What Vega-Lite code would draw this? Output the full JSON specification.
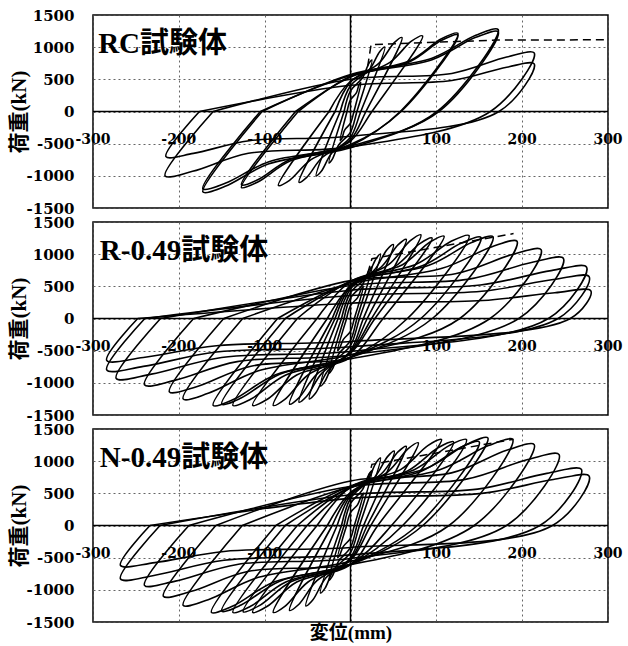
{
"$schema": "https://vega.github.io/schema/vega-lite/v6.json",
"background": "white",
"padding": {"left": 7, "top": 7, "right": 5, "bottom": 5},
"spacing": 14,
"bounds": "flush",
"config": {
 "view": {"stroke": "black", "strokeWidth": 1.5},
 "axis": {"domain": false, "ticks": false, "grid": true, "gridColor": "#555", "gridDash": [2, 3], "gridWidth": 0.9, "labelColor": "black", "titleColor": "black"},
 "axisX": {"labels": false, "titleFont": "Liberation Serif, Noto Sans CJK JP", "titleFontWeight": "bold", "titleFontSize": 19, "titlePadding": 1},
 "axisY": {"labelFont": "DejaVu Serif", "labelFontWeight": "bold", "labelFontSize": 15, "labelPadding": 19, "labelFlush": false, "labelExpr": "datum.value + ''", "titleFont": "Liberation Serif, Noto Sans CJK JP", "titleFontWeight": "bold", "titleFontSize": 21, "titlePadding": -3}
},
"datasets": {
 "xl": [{"v": -300}, {"v": -200}, {"v": -100}, {"v": 100}, {"v": 200}, {"v": 300}],
 "drc": [{"o": 1, "x": 20, "y": 700}, {"o": 2, "x": 24, "y": 1040}, {"o": 3, "x": 170, "y": 1110}, {"o": 4, "x": 300, "y": 1115}],
 "dr": [{"o": 1, "x": 20, "y": 700}, {"o": 2, "x": 25, "y": 930}, {"o": 3, "x": 190, "y": 1320}],
 "dn": [{"o": 1, "x": 20, "y": 700}, {"o": 2, "x": 25, "y": 950}, {"o": 3, "x": 190, "y": 1340}],
 "rc": [
{"c":1,"o":1,"x":-4,"y":0},{"c":1,"o":2,"x":0,"y":180},{"c":1,"o":3,"x":7,"y":293},{"c":1,"o":4,"x":10,"y":419},{"c":1,"o":5,"x":12,"y":450},{"c":1,"o":6,"x":4,"y":0},{"c":1,"o":7,"x":0,"y":-180},{"c":1,"o":8,"x":-7,"y":-293},{"c":1,"o":9,"x":-10,"y":-419},{"c":1,"o":10,"x":-12,"y":-450},{"c":1,"o":11,"x":-4,"y":0},
{"c":2,"o":1,"x":-7.5,"y":0},{"c":2,"o":2,"x":0,"y":320},{"c":2,"o":3,"x":13.8,"y":520},{"c":2,"o":4,"x":21.3,"y":744},{"c":2,"o":5,"x":25,"y":800},{"c":2,"o":6,"x":7.5,"y":0},{"c":2,"o":7,"x":0,"y":-320},{"c":2,"o":8,"x":-13.8,"y":-520},{"c":2,"o":9,"x":-21.3,"y":-744},{"c":2,"o":10,"x":-25,"y":-800},{"c":2,"o":11,"x":-7.5,"y":0},
{"c":3,"o":1,"x":-12,"y":0},{"c":3,"o":2,"x":0,"y":400},{"c":3,"o":3,"x":22,"y":650},{"c":3,"o":4,"x":34,"y":930},{"c":3,"o":5,"x":40,"y":1000},{"c":3,"o":6,"x":12,"y":0},{"c":3,"o":7,"x":0,"y":-400},{"c":3,"o":8,"x":-22,"y":-650},{"c":3,"o":9,"x":-34,"y":-930},{"c":3,"o":10,"x":-40,"y":-1000},{"c":3,"o":11,"x":-12,"y":0},
{"c":4,"o":1,"x":-18,"y":0},{"c":4,"o":2,"x":0,"y":460},{"c":4,"o":3,"x":33,"y":748},{"c":4,"o":4,"x":51,"y":1070},{"c":4,"o":5,"x":60,"y":1150},{"c":4,"o":6,"x":18,"y":0},{"c":4,"o":7,"x":0,"y":-440},{"c":4,"o":8,"x":-33,"y":-715},{"c":4,"o":9,"x":-51,"y":-1023},{"c":4,"o":10,"x":-60,"y":-1100},{"c":4,"o":11,"x":-18,"y":0},
{"c":5,"o":1,"x":-25,"y":0},{"c":5,"o":2,"x":0,"y":470},{"c":5,"o":3,"x":46,"y":764},{"c":5,"o":4,"x":71,"y":1093},{"c":5,"o":5,"x":84,"y":1175},{"c":5,"o":6,"x":25,"y":0},{"c":5,"o":7,"x":0,"y":-460},{"c":5,"o":8,"x":-46,"y":-748},{"c":5,"o":9,"x":-71,"y":-1070},{"c":5,"o":10,"x":-84,"y":-1150},{"c":5,"o":11,"x":-25,"y":0},
{"c":6,"o":1,"x":-61,"y":0},{"c":6,"o":2,"x":0,"y":547},{"c":6,"o":3,"x":69,"y":790},{"c":6,"o":4,"x":106,"y":1130},{"c":6,"o":5,"x":125,"y":1215},{"c":6,"o":6,"x":58,"y":0},{"c":6,"o":7,"x":0,"y":-531},{"c":6,"o":8,"x":-70,"y":-767},{"c":6,"o":9,"x":-108,"y":-1097},{"c":6,"o":10,"x":-127,"y":-1180},{"c":6,"o":11,"x":-61,"y":0},
{"c":7,"o":1,"x":-64,"y":0},{"c":7,"o":2,"x":0,"y":536},{"c":7,"o":3,"x":69,"y":774},{"c":7,"o":4,"x":106,"y":1107},{"c":7,"o":5,"x":125,"y":1190},{"c":7,"o":6,"x":59,"y":0},{"c":7,"o":7,"x":0,"y":-513},{"c":7,"o":8,"x":-70,"y":-741},{"c":7,"o":9,"x":-108,"y":-1060},{"c":7,"o":10,"x":-127,"y":-1140},{"c":7,"o":11,"x":-64,"y":0},
{"c":8,"o":1,"x":-103,"y":0},{"c":8,"o":2,"x":0,"y":574},{"c":8,"o":3,"x":95,"y":829},{"c":8,"o":4,"x":146,"y":1186},{"c":8,"o":5,"x":172,"y":1275},{"c":8,"o":6,"x":101,"y":0},{"c":8,"o":7,"x":0,"y":-563},{"c":8,"o":8,"x":-95,"y":-813},{"c":8,"o":9,"x":-146,"y":-1163},{"c":8,"o":10,"x":-172,"y":-1250},{"c":8,"o":11,"x":-103,"y":0},
{"c":9,"o":1,"x":-105,"y":0},{"c":9,"o":2,"x":0,"y":558},{"c":9,"o":3,"x":95,"y":806},{"c":9,"o":4,"x":146,"y":1153},{"c":9,"o":5,"x":172,"y":1240},{"c":9,"o":6,"x":103,"y":0},{"c":9,"o":7,"x":0,"y":-540},{"c":9,"o":8,"x":-95,"y":-780},{"c":9,"o":9,"x":-146,"y":-1116},{"c":9,"o":10,"x":-172,"y":-1200},{"c":9,"o":11,"x":-105,"y":0},
{"c":10,"o":1,"x":-160,"y":0},{"c":10,"o":2,"x":0,"y":501},{"c":10,"o":3,"x":118,"y":592},{"c":10,"o":4,"x":182,"y":846},{"c":10,"o":5,"x":214,"y":910},{"c":10,"o":6,"x":163,"y":0},{"c":10,"o":7,"x":0,"y":-550},{"c":10,"o":8,"x":-119,"y":-650},{"c":10,"o":9,"x":-184,"y":-930},{"c":10,"o":10,"x":-216,"y":-1000},{"c":10,"o":11,"x":-160,"y":0},
{"c":11,"o":1,"x":-176,"y":0},{"c":11,"o":2,"x":0,"y":407},{"c":11,"o":3,"x":118,"y":481},{"c":11,"o":4,"x":182,"y":688},{"c":11,"o":5,"x":214,"y":740},{"c":11,"o":6,"x":173,"y":0},{"c":11,"o":7,"x":0,"y":-385},{"c":11,"o":8,"x":-118,"y":-455},{"c":11,"o":9,"x":-183,"y":-651},{"c":11,"o":10,"x":-215,"y":-700},{"c":11,"o":11,"x":-176,"y":0}
 ],
 "r": [
{"c":1,"o":1,"x":-4.5,"y":0},{"c":1,"o":2,"x":0,"y":200},{"c":1,"o":3,"x":8.3,"y":325},{"c":1,"o":4,"x":12.8,"y":465},{"c":1,"o":5,"x":15,"y":500},{"c":1,"o":6,"x":4.5,"y":0},{"c":1,"o":7,"x":0,"y":-200},{"c":1,"o":8,"x":-8.3,"y":-325},{"c":1,"o":9,"x":-12.8,"y":-465},{"c":1,"o":10,"x":-15,"y":-500},{"c":1,"o":11,"x":-4.5,"y":0},
{"c":2,"o":1,"x":-7.5,"y":0},{"c":2,"o":2,"x":0,"y":320},{"c":2,"o":3,"x":13.8,"y":520},{"c":2,"o":4,"x":21.3,"y":744},{"c":2,"o":5,"x":25,"y":800},{"c":2,"o":6,"x":7.5,"y":0},{"c":2,"o":7,"x":0,"y":-340},{"c":2,"o":8,"x":-13.8,"y":-553},{"c":2,"o":9,"x":-21.3,"y":-791},{"c":2,"o":10,"x":-25,"y":-850},{"c":2,"o":11,"x":-7.5,"y":0},
{"c":3,"o":1,"x":-10.5,"y":0},{"c":3,"o":2,"x":0,"y":400},{"c":3,"o":3,"x":19.3,"y":650},{"c":3,"o":4,"x":29.8,"y":930},{"c":3,"o":5,"x":35,"y":1000},{"c":3,"o":6,"x":10.5,"y":0},{"c":3,"o":7,"x":0,"y":-420},{"c":3,"o":8,"x":-19.3,"y":-683},{"c":3,"o":9,"x":-29.8,"y":-977},{"c":3,"o":10,"x":-35,"y":-1050},{"c":3,"o":11,"x":-10.5,"y":0},
{"c":4,"o":1,"x":-14.4,"y":0},{"c":4,"o":2,"x":0,"y":460},{"c":4,"o":3,"x":27.5,"y":748},{"c":4,"o":4,"x":42.5,"y":1070},{"c":4,"o":5,"x":50,"y":1150},{"c":4,"o":6,"x":15,"y":0},{"c":4,"o":7,"x":0,"y":-500},{"c":4,"o":8,"x":-26.4,"y":-813},{"c":4,"o":9,"x":-40.8,"y":-1163},{"c":4,"o":10,"x":-48,"y":-1250},{"c":4,"o":11,"x":-14.4,"y":0},
{"c":5,"o":1,"x":-18,"y":0},{"c":5,"o":2,"x":0,"y":492},{"c":5,"o":3,"x":35.8,"y":800},{"c":5,"o":4,"x":55.3,"y":1144},{"c":5,"o":5,"x":65,"y":1230},{"c":5,"o":6,"x":19.5,"y":0},{"c":5,"o":7,"x":0,"y":-520},{"c":5,"o":8,"x":-33,"y":-845},{"c":5,"o":9,"x":-51,"y":-1209},{"c":5,"o":10,"x":-60,"y":-1300},{"c":5,"o":11,"x":-18,"y":0},
{"c":6,"o":1,"x":-21.3,"y":0},{"c":6,"o":2,"x":0,"y":520},{"c":6,"o":3,"x":45.1,"y":845},{"c":6,"o":4,"x":69.7,"y":1209},{"c":6,"o":5,"x":82,"y":1300},{"c":6,"o":6,"x":24.6,"y":0},{"c":6,"o":7,"x":0,"y":-532},{"c":6,"o":8,"x":-39.1,"y":-865},{"c":6,"o":9,"x":-60.4,"y":-1237},{"c":6,"o":10,"x":-71,"y":-1330},{"c":6,"o":11,"x":-21.3,"y":0},
{"c":7,"o":1,"x":-27,"y":0},{"c":7,"o":2,"x":0,"y":500},{"c":7,"o":3,"x":52.3,"y":813},{"c":7,"o":4,"x":80.8,"y":1163},{"c":7,"o":5,"x":95,"y":1250},{"c":7,"o":6,"x":28.5,"y":0},{"c":7,"o":7,"x":0,"y":-540},{"c":7,"o":8,"x":-49.5,"y":-878},{"c":7,"o":9,"x":-76.5,"y":-1256},{"c":7,"o":10,"x":-90,"y":-1350},{"c":7,"o":11,"x":-27,"y":0},
{"c":8,"o":1,"x":-39,"y":0},{"c":8,"o":2,"x":0,"y":576},{"c":8,"o":3,"x":60,"y":832},{"c":8,"o":4,"x":92.7,"y":1190},{"c":8,"o":5,"x":109,"y":1280},{"c":8,"o":6,"x":37.9,"y":0},{"c":8,"o":7,"x":0,"y":-608},{"c":8,"o":8,"x":-62.7,"y":-878},{"c":8,"o":9,"x":-96.9,"y":-1256},{"c":8,"o":10,"x":-114,"y":-1350},{"c":8,"o":11,"x":-39,"y":0},
{"c":9,"o":1,"x":-62,"y":0},{"c":9,"o":2,"x":0,"y":581},{"c":9,"o":3,"x":75.9,"y":839},{"c":9,"o":4,"x":117.3,"y":1200},{"c":9,"o":5,"x":138,"y":1290},{"c":9,"o":6,"x":66.3,"y":0},{"c":9,"o":7,"x":0,"y":-608},{"c":9,"o":8,"x":-75.4,"y":-878},{"c":9,"o":9,"x":-116.5,"y":-1256},{"c":9,"o":10,"x":-137,"y":-1350},{"c":9,"o":11,"x":-62,"y":0},
{"c":10,"o":1,"x":-76,"y":0},{"c":10,"o":2,"x":0,"y":567},{"c":10,"o":3,"x":83.6,"y":819},{"c":10,"o":4,"x":129.2,"y":1172},{"c":10,"o":5,"x":152,"y":1260},{"c":10,"o":6,"x":82,"y":0},{"c":10,"o":7,"x":0,"y":-599},{"c":10,"o":8,"x":-82.5,"y":-865},{"c":10,"o":9,"x":-127.5,"y":-1237},{"c":10,"o":10,"x":-150,"y":-1330},{"c":10,"o":11,"x":-76,"y":0},
{"c":11,"o":1,"x":-85,"y":0},{"c":11,"o":2,"x":0,"y":572},{"c":11,"o":3,"x":91.3,"y":826},{"c":11,"o":4,"x":141.1,"y":1181},{"c":11,"o":5,"x":166,"y":1270},{"c":11,"o":6,"x":95.4,"y":0},{"c":11,"o":7,"x":0,"y":-608},{"c":11,"o":8,"x":-88,"y":-878},{"c":11,"o":9,"x":-136,"y":-1256},{"c":11,"o":10,"x":-160,"y":-1350},{"c":11,"o":11,"x":-85,"y":0},
{"c":12,"o":1,"x":-125.6,"y":0},{"c":12,"o":2,"x":0,"y":540},{"c":12,"o":3,"x":106.7,"y":780},{"c":12,"o":4,"x":164.9,"y":1116},{"c":12,"o":5,"x":194,"y":1200},{"c":12,"o":6,"x":127.3,"y":0},{"c":12,"o":7,"x":0,"y":-563},{"c":12,"o":8,"x":-107.3,"y":-813},{"c":12,"o":9,"x":-165.8,"y":-1163},{"c":12,"o":10,"x":-195,"y":-1250},{"c":12,"o":11,"x":-125.6,"y":0},
{"c":13,"o":1,"x":-147.7,"y":0},{"c":13,"o":2,"x":0,"y":589},{"c":13,"o":3,"x":122.1,"y":696},{"c":13,"o":4,"x":188.7,"y":995},{"c":13,"o":5,"x":222,"y":1070},{"c":13,"o":6,"x":162.6,"y":0},{"c":13,"o":7,"x":0,"y":-627},{"c":13,"o":8,"x":-116,"y":-741},{"c":13,"o":9,"x":-179.4,"y":-1060},{"c":13,"o":10,"x":-211,"y":-1140},{"c":13,"o":11,"x":-147.7,"y":0},
{"c":14,"o":1,"x":-182.8,"y":0},{"c":14,"o":2,"x":0,"y":514},{"c":14,"o":3,"x":136.4,"y":608},{"c":14,"o":4,"x":210.8,"y":870},{"c":14,"o":5,"x":248,"y":935},{"c":14,"o":6,"x":196.1,"y":0},{"c":14,"o":7,"x":0,"y":-567},{"c":14,"o":8,"x":-132,"y":-670},{"c":14,"o":9,"x":-204,"y":-958},{"c":14,"o":10,"x":-240,"y":-1030},{"c":14,"o":11,"x":-182.8,"y":0},
{"c":15,"o":1,"x":-221.3,"y":0},{"c":15,"o":2,"x":0,"y":440},{"c":15,"o":3,"x":151.3,"y":520},{"c":15,"o":4,"x":233.8,"y":744},{"c":15,"o":5,"x":275,"y":800},{"c":15,"o":6,"x":230.6,"y":0},{"c":15,"o":7,"x":0,"y":-512},{"c":15,"o":8,"x":-150.2,"y":-605},{"c":15,"o":9,"x":-232,"y":-865},{"c":15,"o":10,"x":-273,"y":-930},{"c":15,"o":11,"x":-221.3,"y":0},
{"c":16,"o":1,"x":-239.6,"y":0},{"c":16,"o":2,"x":0,"y":358},{"c":16,"o":3,"x":152.9,"y":423},{"c":16,"o":4,"x":236.3,"y":605},{"c":16,"o":5,"x":278,"y":650},{"c":16,"o":6,"x":241.9,"y":0},{"c":16,"o":7,"x":0,"y":-440},{"c":16,"o":8,"x":-156.2,"y":-520},{"c":16,"o":9,"x":-241.4,"y":-744},{"c":16,"o":10,"x":-284,"y":-800},{"c":16,"o":11,"x":-239.6,"y":0},
{"c":17,"o":1,"x":-247.9,"y":0},{"c":17,"o":2,"x":0,"y":237},{"c":17,"o":3,"x":154,"y":280},{"c":17,"o":4,"x":238,"y":400},{"c":17,"o":5,"x":280,"y":430},{"c":17,"o":6,"x":256.1,"y":0},{"c":17,"o":7,"x":0,"y":-358},{"c":17,"o":8,"x":-156.2,"y":-423},{"c":17,"o":9,"x":-241.4,"y":-605},{"c":17,"o":10,"x":-284,"y":-650},{"c":17,"o":11,"x":-247.9,"y":0}
 ],
 "n": [
{"c":1,"o":1,"x":-4.5,"y":0},{"c":1,"o":2,"x":0,"y":200},{"c":1,"o":3,"x":8.3,"y":325},{"c":1,"o":4,"x":12.8,"y":465},{"c":1,"o":5,"x":15,"y":500},{"c":1,"o":6,"x":4.5,"y":0},{"c":1,"o":7,"x":0,"y":-200},{"c":1,"o":8,"x":-8.3,"y":-325},{"c":1,"o":9,"x":-12.8,"y":-465},{"c":1,"o":10,"x":-15,"y":-500},{"c":1,"o":11,"x":-4.5,"y":0},
{"c":2,"o":1,"x":-7.5,"y":0},{"c":2,"o":2,"x":0,"y":340},{"c":2,"o":3,"x":13.8,"y":553},{"c":2,"o":4,"x":21.3,"y":791},{"c":2,"o":5,"x":25,"y":850},{"c":2,"o":6,"x":7.5,"y":0},{"c":2,"o":7,"x":0,"y":-340},{"c":2,"o":8,"x":-13.8,"y":-553},{"c":2,"o":9,"x":-21.3,"y":-791},{"c":2,"o":10,"x":-25,"y":-850},{"c":2,"o":11,"x":-7.5,"y":0},
{"c":3,"o":1,"x":-10.5,"y":0},{"c":3,"o":2,"x":0,"y":420},{"c":3,"o":3,"x":19.3,"y":683},{"c":3,"o":4,"x":29.8,"y":977},{"c":3,"o":5,"x":35,"y":1050},{"c":3,"o":6,"x":10.5,"y":0},{"c":3,"o":7,"x":0,"y":-420},{"c":3,"o":8,"x":-19.3,"y":-683},{"c":3,"o":9,"x":-29.8,"y":-977},{"c":3,"o":10,"x":-35,"y":-1050},{"c":3,"o":11,"x":-10.5,"y":0},
{"c":4,"o":1,"x":-15.6,"y":0},{"c":4,"o":2,"x":0,"y":462},{"c":4,"o":3,"x":28.1,"y":751},{"c":4,"o":4,"x":43.4,"y":1074},{"c":4,"o":5,"x":51,"y":1155},{"c":4,"o":6,"x":15.3,"y":0},{"c":4,"o":7,"x":0,"y":-500},{"c":4,"o":8,"x":-28.6,"y":-813},{"c":4,"o":9,"x":-44.2,"y":-1163},{"c":4,"o":10,"x":-52,"y":-1250},{"c":4,"o":11,"x":-15.6,"y":0},
{"c":5,"o":1,"x":-21.3,"y":0},{"c":5,"o":2,"x":0,"y":492},{"c":5,"o":3,"x":35.8,"y":800},{"c":5,"o":4,"x":55.3,"y":1144},{"c":5,"o":5,"x":65,"y":1230},{"c":5,"o":6,"x":19.5,"y":0},{"c":5,"o":7,"x":0,"y":-528},{"c":5,"o":8,"x":-39.1,"y":-858},{"c":5,"o":9,"x":-60.4,"y":-1228},{"c":5,"o":10,"x":-71,"y":-1320},{"c":5,"o":11,"x":-21.3,"y":0},
{"c":6,"o":1,"x":-27,"y":0},{"c":6,"o":2,"x":0,"y":514},{"c":6,"o":3,"x":43.5,"y":835},{"c":6,"o":4,"x":67.2,"y":1195},{"c":6,"o":5,"x":79,"y":1285},{"c":6,"o":6,"x":23.7,"y":0},{"c":6,"o":7,"x":0,"y":-540},{"c":6,"o":8,"x":-49.5,"y":-878},{"c":6,"o":9,"x":-76.5,"y":-1256},{"c":6,"o":10,"x":-90,"y":-1350},{"c":6,"o":11,"x":-27,"y":0},
{"c":7,"o":1,"x":-39,"y":0},{"c":7,"o":2,"x":0,"y":601},{"c":7,"o":3,"x":58.3,"y":868},{"c":7,"o":4,"x":90.1,"y":1242},{"c":7,"o":5,"x":106,"y":1336},{"c":7,"o":6,"x":31.8,"y":0},{"c":7,"o":7,"x":0,"y":-608},{"c":7,"o":8,"x":-62.7,"y":-878},{"c":7,"o":9,"x":-96.9,"y":-1256},{"c":7,"o":10,"x":-114,"y":-1350},{"c":7,"o":11,"x":-39,"y":0},
{"c":8,"o":1,"x":-50.6,"y":0},{"c":8,"o":2,"x":0,"y":585},{"c":8,"o":3,"x":66,"y":845},{"c":8,"o":4,"x":102,"y":1209},{"c":8,"o":5,"x":120,"y":1300},{"c":8,"o":6,"x":47.8,"y":0},{"c":8,"o":7,"x":0,"y":-603},{"c":8,"o":8,"x":-68.8,"y":-871},{"c":8,"o":9,"x":-106.3,"y":-1246},{"c":8,"o":10,"x":-125,"y":-1340},{"c":8,"o":11,"x":-50.6,"y":0},
{"c":9,"o":1,"x":-62,"y":0},{"c":9,"o":2,"x":0,"y":601},{"c":9,"o":3,"x":74.3,"y":868},{"c":9,"o":4,"x":114.8,"y":1242},{"c":9,"o":5,"x":135,"y":1336},{"c":9,"o":6,"x":60.8,"y":0},{"c":9,"o":7,"x":0,"y":-608},{"c":9,"o":8,"x":-75.4,"y":-878},{"c":9,"o":9,"x":-116.5,"y":-1256},{"c":9,"o":10,"x":-137,"y":-1350},{"c":9,"o":11,"x":-62,"y":0},
{"c":10,"o":1,"x":-76.1,"y":0},{"c":10,"o":2,"x":0,"y":585},{"c":10,"o":3,"x":82.5,"y":845},{"c":10,"o":4,"x":127.5,"y":1209},{"c":10,"o":5,"x":150,"y":1300},{"c":10,"o":6,"x":77.8,"y":0},{"c":10,"o":7,"x":0,"y":-599},{"c":10,"o":8,"x":-82.5,"y":-865},{"c":10,"o":9,"x":-127.5,"y":-1237},{"c":10,"o":10,"x":-150,"y":-1330},{"c":10,"o":11,"x":-76.1,"y":0},
{"c":11,"o":1,"x":-87,"y":0},{"c":11,"o":2,"x":0,"y":613},{"c":11,"o":3,"x":88,"y":885},{"c":11,"o":4,"x":136,"y":1267},{"c":11,"o":5,"x":160,"y":1362},{"c":11,"o":6,"x":84.3,"y":0},{"c":11,"o":7,"x":0,"y":-608},{"c":11,"o":8,"x":-89.1,"y":-878},{"c":11,"o":9,"x":-137.7,"y":-1256},{"c":11,"o":10,"x":-162,"y":-1350},{"c":11,"o":11,"x":-87,"y":0},
{"c":12,"o":1,"x":-126.1,"y":0},{"c":12,"o":2,"x":0,"y":601},{"c":12,"o":3,"x":104,"y":868},{"c":12,"o":4,"x":160.7,"y":1242},{"c":12,"o":5,"x":189,"y":1336},{"c":12,"o":6,"x":114.8,"y":0},{"c":12,"o":7,"x":0,"y":-558},{"c":12,"o":8,"x":-107.3,"y":-806},{"c":12,"o":9,"x":-165.8,"y":-1153},{"c":12,"o":10,"x":-195,"y":-1240},{"c":12,"o":11,"x":-126.1,"y":0},
{"c":13,"o":1,"x":-156.9,"y":0},{"c":13,"o":2,"x":0,"y":692},{"c":13,"o":3,"x":117.7,"y":818},{"c":13,"o":4,"x":181.9,"y":1170},{"c":13,"o":5,"x":214,"y":1258},{"c":13,"o":6,"x":144.1,"y":0},{"c":13,"o":7,"x":0,"y":-605},{"c":13,"o":8,"x":-119.9,"y":-715},{"c":13,"o":9,"x":-185.3,"y":-1023},{"c":13,"o":10,"x":-218,"y":-1100},{"c":13,"o":11,"x":-156.9,"y":0},
{"c":14,"o":1,"x":-188.3,"y":0},{"c":14,"o":2,"x":0,"y":607},{"c":14,"o":3,"x":133.7,"y":717},{"c":14,"o":4,"x":206.6,"y":1026},{"c":14,"o":5,"x":243,"y":1103},{"c":14,"o":6,"x":181.7,"y":0},{"c":14,"o":7,"x":0,"y":-512},{"c":14,"o":8,"x":-132,"y":-605},{"c":14,"o":9,"x":-204,"y":-865},{"c":14,"o":10,"x":-240,"y":-930},{"c":14,"o":11,"x":-188.3,"y":0},
{"c":15,"o":1,"x":-221.9,"y":0},{"c":15,"o":2,"x":0,"y":479},{"c":15,"o":3,"x":148,"y":566},{"c":15,"o":4,"x":228.7,"y":810},{"c":15,"o":5,"x":269,"y":871},{"c":15,"o":6,"x":220.6,"y":0},{"c":15,"o":7,"x":0,"y":-457},{"c":15,"o":8,"x":-147.4,"y":-540},{"c":15,"o":9,"x":-227.8,"y":-772},{"c":15,"o":10,"x":-268,"y":-830},{"c":15,"o":11,"x":-221.9,"y":0},
{"c":16,"o":1,"x":-233.6,"y":0},{"c":16,"o":2,"x":0,"y":422},{"c":16,"o":3,"x":152.9,"y":499},{"c":16,"o":4,"x":236.3,"y":714},{"c":16,"o":5,"x":278,"y":768},{"c":16,"o":6,"x":235.3,"y":0},{"c":16,"o":7,"x":0,"y":-341},{"c":16,"o":8,"x":-147.4,"y":-403},{"c":16,"o":9,"x":-227.8,"y":-577},{"c":16,"o":10,"x":-268,"y":-620},{"c":16,"o":11,"x":-233.6,"y":0}
 ]
},
"vconcat": [
 {"width": 515, "height": 193, "layer": [
  {"data": {"name": "rc"}, "mark": {"type": "line", "color": "black", "strokeWidth": 1.6, "interpolate": "catmull-rom", "clip": true},
   "encoding": {"x": {"field": "x", "type": "quantitative", "scale": {"domain": [-300, 300], "nice": false}, "axis": {"values": [-300, -200, -100, 0, 100, 200, 300], "title": null}},
    "y": {"field": "y", "type": "quantitative", "scale": {"domain": [-1500, 1500], "nice": false}, "axis": {"values": [-1500, -1000, -500, 0, 500, 1000, 1500], "title": "荷重(kN)"}},
    "detail": {"field": "c"}, "order": {"field": "o"}}},
  {"data": {"name": "drc"}, "mark": {"type": "line", "color": "black", "strokeWidth": 1.5, "strokeDash": [8, 5]},
   "encoding": {"x": {"field": "x", "type": "quantitative", "axis": {"values": [-300, -200, -100, 0, 100, 200, 300], "title": null}}, "y": {"field": "y", "type": "quantitative", "axis": {"values": [-1500, -1000, -500, 0, 500, 1000, 1500], "title": "荷重(kN)"}}, "order": {"field": "o"}}},
  {"data": {"values": [{}]}, "mark": {"type": "rule", "color": "black", "strokeWidth": 1.5}, "encoding": {"x": {"datum": 0, "axis": {"values": [-300, -200, -100, 0, 100, 200, 300], "title": null}}}},
  {"data": {"values": [{}]}, "mark": {"type": "rule", "color": "black", "strokeWidth": 1.5}, "encoding": {"y": {"datum": 0, "axis": {"values": [-1500, -1000, -500, 0, 500, 1000, 1500], "title": "荷重(kN)"}}}},
  {"data": {"name": "xl"}, "mark": {"type": "text", "font": "DejaVu Serif", "fontWeight": "bold", "fontSize": 14, "baseline": "middle", "align": "center", "color": "black"},
   "encoding": {"x": {"field": "v", "type": "quantitative", "axis": {"values": [-300, -200, -100, 0, 100, 200, 300], "title": null}}, "y": {"datum": -450, "axis": {"values": [-1500, -1000, -500, 0, 500, 1000, 1500], "title": "荷重(kN)"}}, "text": {"field": "v", "type": "nominal"}}},
  {"data": {"values": [{"t": "RC試験体"}]}, "mark": {"type": "text", "font": "Liberation Serif, Noto Sans CJK JP", "fontWeight": "bold", "fontSize": 29, "align": "left", "baseline": "alphabetic", "color": "black"},
   "encoding": {"x": {"datum": -294, "axis": {"values": [-300, -200, -100, 0, 100, 200, 300], "title": null}}, "y": {"datum": 905, "axis": {"values": [-1500, -1000, -500, 0, 500, 1000, 1500], "title": "荷重(kN)"}}, "text": {"field": "t"}}}
 ]},
 {"width": 515, "height": 193, "layer": [
  {"data": {"name": "r"}, "mark": {"type": "line", "color": "black", "strokeWidth": 1.6, "interpolate": "catmull-rom", "clip": true},
   "encoding": {"x": {"field": "x", "type": "quantitative", "scale": {"domain": [-300, 300], "nice": false}, "axis": {"values": [-300, -200, -100, 0, 100, 200, 300], "title": null}},
    "y": {"field": "y", "type": "quantitative", "scale": {"domain": [-1500, 1500], "nice": false}, "axis": {"values": [-1500, -1000, -500, 0, 500, 1000, 1500], "title": "荷重(kN)"}},
    "detail": {"field": "c"}, "order": {"field": "o"}}},
  {"data": {"name": "dr"}, "mark": {"type": "line", "color": "black", "strokeWidth": 1.5, "strokeDash": [8, 5]},
   "encoding": {"x": {"field": "x", "type": "quantitative", "axis": {"values": [-300, -200, -100, 0, 100, 200, 300], "title": null}}, "y": {"field": "y", "type": "quantitative", "axis": {"values": [-1500, -1000, -500, 0, 500, 1000, 1500], "title": "荷重(kN)"}}, "order": {"field": "o"}}},
  {"data": {"values": [{}]}, "mark": {"type": "rule", "color": "black", "strokeWidth": 1.5}, "encoding": {"x": {"datum": 0, "axis": {"values": [-300, -200, -100, 0, 100, 200, 300], "title": null}}}},
  {"data": {"values": [{}]}, "mark": {"type": "rule", "color": "black", "strokeWidth": 1.5}, "encoding": {"y": {"datum": 0, "axis": {"values": [-1500, -1000, -500, 0, 500, 1000, 1500], "title": "荷重(kN)"}}}},
  {"data": {"name": "xl"}, "mark": {"type": "text", "font": "DejaVu Serif", "fontWeight": "bold", "fontSize": 14, "baseline": "middle", "align": "center", "color": "black"},
   "encoding": {"x": {"field": "v", "type": "quantitative", "axis": {"values": [-300, -200, -100, 0, 100, 200, 300], "title": null}}, "y": {"datum": -450, "axis": {"values": [-1500, -1000, -500, 0, 500, 1000, 1500], "title": "荷重(kN)"}}, "text": {"field": "v", "type": "nominal"}}},
  {"data": {"values": [{"t": "R-0.49試験体"}]}, "mark": {"type": "text", "font": "Liberation Serif, Noto Sans CJK JP", "fontWeight": "bold", "fontSize": 29, "align": "left", "baseline": "alphabetic", "color": "black"},
   "encoding": {"x": {"datum": -292, "axis": {"values": [-300, -200, -100, 0, 100, 200, 300], "title": null}}, "y": {"datum": 905, "axis": {"values": [-1500, -1000, -500, 0, 500, 1000, 1500], "title": "荷重(kN)"}}, "text": {"field": "t"}}}
 ]},
 {"width": 515, "height": 193, "layer": [
  {"data": {"name": "n"}, "mark": {"type": "line", "color": "black", "strokeWidth": 1.6, "interpolate": "catmull-rom", "clip": true},
   "encoding": {"x": {"field": "x", "type": "quantitative", "scale": {"domain": [-300, 300], "nice": false}, "axis": {"values": [-300, -200, -100, 0, 100, 200, 300], "title": "変位(mm)"}},
    "y": {"field": "y", "type": "quantitative", "scale": {"domain": [-1500, 1500], "nice": false}, "axis": {"values": [-1500, -1000, -500, 0, 500, 1000, 1500], "title": "荷重(kN)"}},
    "detail": {"field": "c"}, "order": {"field": "o"}}},
  {"data": {"name": "dn"}, "mark": {"type": "line", "color": "black", "strokeWidth": 1.5, "strokeDash": [8, 5]},
   "encoding": {"x": {"field": "x", "type": "quantitative", "axis": {"values": [-300, -200, -100, 0, 100, 200, 300], "title": "変位(mm)"}}, "y": {"field": "y", "type": "quantitative", "axis": {"values": [-1500, -1000, -500, 0, 500, 1000, 1500], "title": "荷重(kN)"}}, "order": {"field": "o"}}},
  {"data": {"values": [{}]}, "mark": {"type": "rule", "color": "black", "strokeWidth": 1.5}, "encoding": {"x": {"datum": 0, "axis": {"values": [-300, -200, -100, 0, 100, 200, 300], "title": "変位(mm)"}}}},
  {"data": {"values": [{}]}, "mark": {"type": "rule", "color": "black", "strokeWidth": 1.5}, "encoding": {"y": {"datum": 0, "axis": {"values": [-1500, -1000, -500, 0, 500, 1000, 1500], "title": "荷重(kN)"}}}},
  {"data": {"name": "xl"}, "mark": {"type": "text", "font": "DejaVu Serif", "fontWeight": "bold", "fontSize": 14, "baseline": "middle", "align": "center", "color": "black"},
   "encoding": {"x": {"field": "v", "type": "quantitative", "axis": {"values": [-300, -200, -100, 0, 100, 200, 300], "title": "変位(mm)"}}, "y": {"datum": -450, "axis": {"values": [-1500, -1000, -500, 0, 500, 1000, 1500], "title": "荷重(kN)"}}, "text": {"field": "v", "type": "nominal"}}},
  {"data": {"values": [{"t": "N-0.49試験体"}]}, "mark": {"type": "text", "font": "Liberation Serif, Noto Sans CJK JP", "fontWeight": "bold", "fontSize": 29, "align": "left", "baseline": "alphabetic", "color": "black"},
   "encoding": {"x": {"datum": -292, "axis": {"values": [-300, -200, -100, 0, 100, 200, 300], "title": "変位(mm)"}}, "y": {"datum": 905, "axis": {"values": [-1500, -1000, -500, 0, 500, 1000, 1500], "title": "荷重(kN)"}}, "text": {"field": "t"}}}
 ]}
]
}
